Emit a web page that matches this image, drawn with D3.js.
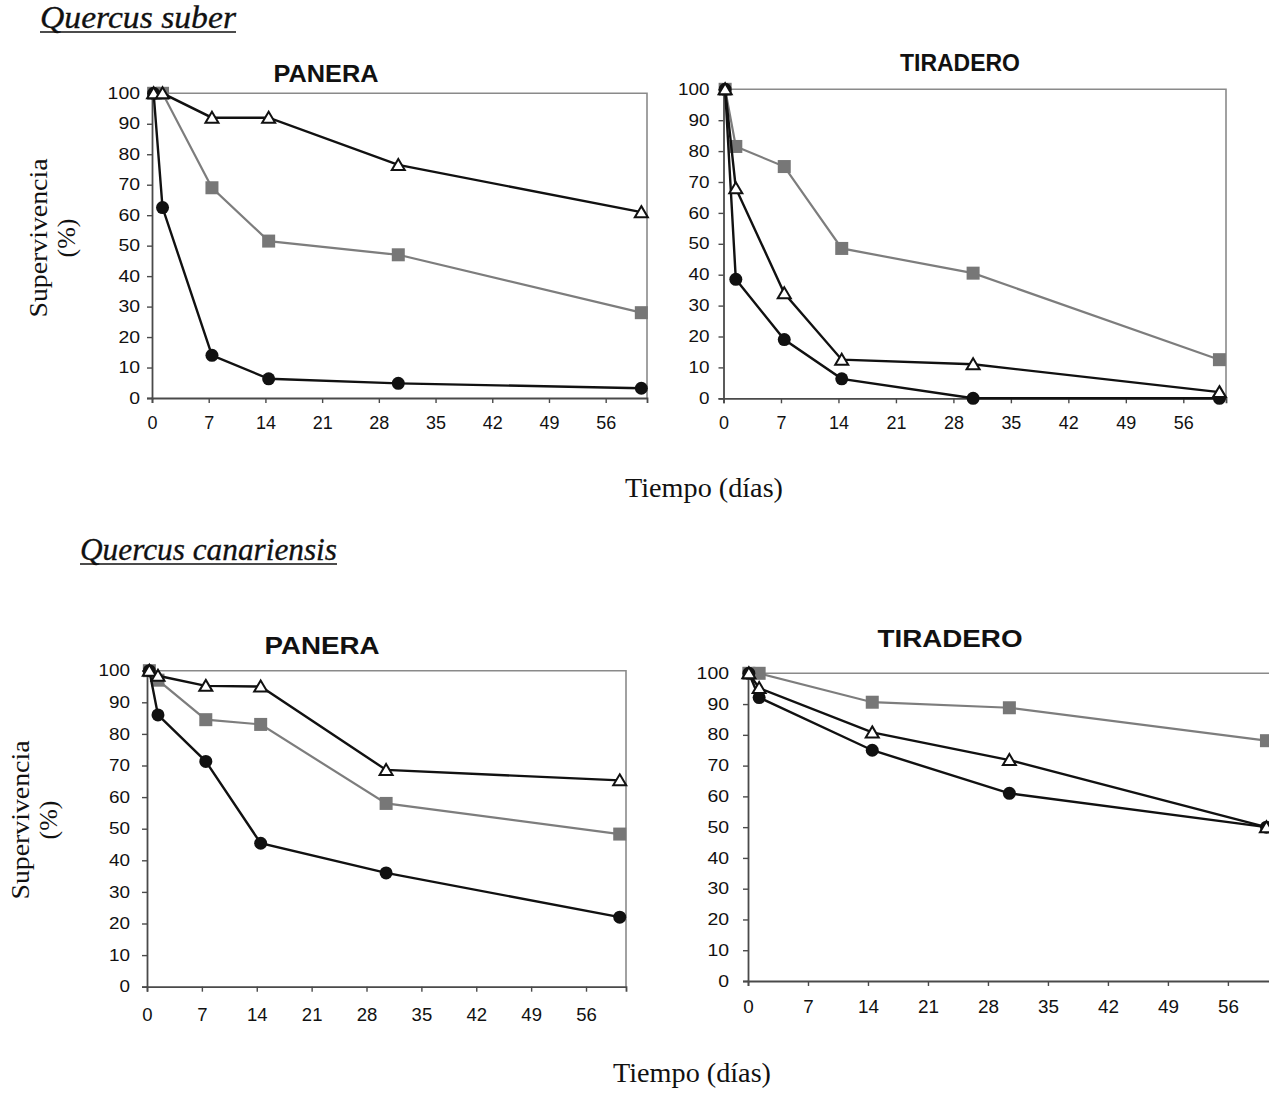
<!DOCTYPE html>
<html>
<head>
<meta charset="utf-8">
<script src="https://cdn.jsdelivr.net/npm/d3@7"></script>
<style>
  body { margin: 0; background: #fff; }
  svg { display: block; }
</style>
</head>
<body>
<div id="chart"></div>
<script>
// Supervivencia (%) vs tiempo (dias)

const xTicks = [0, 7, 14, 21, 28, 35, 42, 49, 56];
const yTicks = [0, 10, 20, 30, 40, 50, 60, 70, 80, 90, 100];

// Quercus suber - PANERA
const suberPaneraDays = [0.2, 1.3, 7.4, 14.4, 30.4, 60.4];
const suberPaneraTriangle = [100, 100, 92, 92, 76.5, 61];
const suberPaneraSquare = [100, 100, 69, 51.5, 47, 28];
const suberPaneraCircle = [100, 62.5, 14, 6.3, 4.8, 3.2];

// Quercus suber - TIRADERO
const suberTiraderoDays = [0.2, 1.5, 7.4, 14.4, 30.4, 60.4];
const suberTiraderoTriangle = [100, 68, 34, 12.5, 11, 2];
const suberTiraderoSquare = [100, 81.5, 75, 48.5, 40.5, 12.5];
const suberTiraderoCircle = [100, 38.5, 19, 6.3, 0, 0];

// Quercus canariensis - PANERA
const canarPaneraDays = [0.3, 1.4, 7.5, 14.5, 30.5, 60.3];
const canarPaneraTriangle = [100, 98.4, 95.2, 95, 68.6, 65.3];
const canarPaneraSquare = [100, 97, 84.5, 83, 58, 48.3];
const canarPaneraCircle = [100, 86, 71.3, 45.4, 36, 22];

// Quercus canariensis - TIRADERO
const canarTiraderoDays = [0.1, 1.3, 14.5, 30.5, 60.5];
const canarTiraderoTriangle = [100, 95.2, 80.8, 71.8, 50];
const canarTiraderoSquare = [100, 100, 90.6, 88.8, 78.1];
const canarTiraderoCircle = [100, 92.1, 75, 61, 50];

const W = 1269, H = 1093;
const SANS = '"Liberation Sans", Arial, sans-serif';
const SERIF = '"Liberation Serif", "Times New Roman", serif';

const svg = d3.select('#chart').append('svg')
    .attr('width', W)
    .attr('height', H)
    .attr('viewBox', `0 0 ${W} ${H}`);

svg.append('rect').attr('width', W).attr('height', H).attr('fill', '#fff');

const zip = (days, vals) => days.map((d, i) => [d, vals[i]]);

const panels = [
    { title: 'PANERA', titleX: 326, titleY: 82, titleSize: 23, titleLen: 105,
      left: 152, right: 647, top: 93.3, bottom: 398, xMax: 61.1,
      yPad: 7, xPad: 13, yDigit: 10.8, xDigit: 10,
      days: suberPaneraDays, tri: suberPaneraTriangle, sq: suberPaneraSquare, circ: suberPaneraCircle },
    { title: 'TIRADERO', titleX: 960, titleY: 71, titleSize: 23, titleLen: 120,
      left: 723.5, right: 1226, top: 89.3, bottom: 398.3, xMax: 61.2,
      yPad: 9, xPad: 13, yDigit: 10.5, xDigit: 10,
      days: suberTiraderoDays, tri: suberTiraderoTriangle, sq: suberTiraderoSquare, circ: suberTiraderoCircle },
    { title: 'PANERA', titleX: 322, titleY: 654, titleSize: 24, titleLen: 115,
      left: 147, right: 626, top: 670.7, bottom: 986.7, xMax: 61.1,
      yPad: 12, xPad: 17, yDigit: 10.5, xDigit: 10.3,
      days: canarPaneraDays, tri: canarPaneraTriangle, sq: canarPaneraSquare, circ: canarPaneraCircle },
    { title: 'TIRADERO', titleX: 950, titleY: 647, titleSize: 24, titleLen: 145,
      left: 748, right: 1271.6, top: 673.3, bottom: 981, xMax: 61.1,
      yPad: 14, xPad: 14, yDigit: 10.8, xDigit: 10.5,
      days: canarTiraderoDays, tri: canarTiraderoTriangle, sq: canarTiraderoSquare, circ: canarTiraderoCircle }
];

function drawPanel(p) {
    const g = svg.append('g');
    const x = d3.scaleLinear().domain([0, p.xMax]).range([p.left, p.right]);
    const y = d3.scaleLinear().domain([0, 100]).range([p.bottom, p.top]);

    // Title
    g.append('text')
        .attr('x', p.titleX)
        .attr('y', p.titleY)
        .attr('text-anchor', 'middle')
        .attr('font-family', SANS)
        .attr('font-weight', 'bold')
        .attr('font-size', p.titleSize)
        .attr('textLength', p.titleLen)
        .attr('lengthAdjust', 'spacingAndGlyphs')
        .attr('fill', '#111')
        .text(p.title);

    // Top + right frame
    g.append('path')
        .attr('d', `M${p.left},${p.top}H${p.right}V${p.bottom}`)
        .attr('fill', 'none')
        .attr('stroke', '#8a8a8a')
        .attr('stroke-width', 1.6);

    // Axes
    const yAxis = d3.axisLeft(y).tickValues(yTicks).tickSize(5).tickPadding(p.yPad);
    const xAxis = d3.axisBottom(x).tickValues(xTicks).tickSize(5).tickPadding(p.xPad);

    const yg = g.append('g')
        .attr('transform', `translate(${p.left},0)`)
        .call(yAxis);
    const xg = g.append('g')
        .attr('transform', `translate(0,${p.bottom})`)
        .call(xAxis);

    [yg, xg].forEach(a => {
        a.select('.domain').attr('stroke', '#4a4a4a').attr('stroke-width', 1.8);
        a.selectAll('.tick line').attr('stroke', '#4a4a4a').attr('stroke-width', 1.4);
    });
    yg.selectAll('.tick text')
        .attr('font-family', SANS)
        .attr('font-size', 16)
        .attr('fill', '#111')
        .attr('textLength', d => String(d).length * p.yDigit)
        .attr('lengthAdjust', 'spacingAndGlyphs');
    xg.selectAll('.tick text')
        .attr('font-family', SANS)
        .attr('font-size', 18)
        .attr('fill', '#111')
        .attr('textLength', d => String(d).length * p.xDigit)
        .attr('lengthAdjust', 'spacingAndGlyphs');

    const line = d3.line().x(d => x(d[0])).y(d => y(d[1]));

    const sqData = zip(p.days, p.sq);
    const circData = zip(p.days, p.circ);
    const triData = zip(p.days, p.tri);

    // Gray squares series
    g.append('path').datum(sqData)
        .attr('d', line).attr('fill', 'none')
        .attr('stroke', '#7d7d7d').attr('stroke-width', 2.2);
    g.selectAll(null).data(sqData).join('rect')
        .attr('x', d => x(d[0]) - 6.5).attr('y', d => y(d[1]) - 6.5)
        .attr('width', 13).attr('height', 13)
        .attr('fill', '#777');

    // Black circles series
    g.append('path').datum(circData)
        .attr('d', line).attr('fill', 'none')
        .attr('stroke', '#111').attr('stroke-width', 2.4);
    g.selectAll(null).data(circData).join('circle')
        .attr('cx', d => x(d[0])).attr('cy', d => y(d[1]))
        .attr('r', 6.5)
        .attr('fill', '#111');

    // Open triangles series
    g.append('path').datum(triData)
        .attr('d', line).attr('fill', 'none')
        .attr('stroke', '#111').attr('stroke-width', 2.4);
    g.selectAll(null).data(triData).join('path')
        .attr('transform', d => `translate(${x(d[0])},${y(d[1])})`)
        .attr('d', 'M0,-6L6.5,5H-6.5Z')
        .attr('fill', '#fff')
        .attr('stroke', '#111')
        .attr('stroke-width', 2)
        .attr('stroke-linejoin', 'miter');
}

panels.forEach(drawPanel);

// Species headings
function heading(text, x0, base, len) {
    svg.append('text')
        .attr('x', x0).attr('y', base)
        .attr('font-family', SERIF)
        .attr('font-style', 'italic')
        .attr('font-size', 31)
        .attr('textLength', len)
        .attr('lengthAdjust', 'spacingAndGlyphs')
        .attr('fill', '#111')
        .attr('stroke', '#111')
        .attr('stroke-width', 0.3)
        .text(text);
    svg.append('line')
        .attr('x1', x0).attr('x2', x0 + len)
        .attr('y1', base + 4).attr('y2', base + 4)
        .attr('stroke', '#111').attr('stroke-width', 1.6);
}
heading('Quercus suber', 40, 28, 196);
heading('Quercus canariensis', 80, 560, 257);

// Y-axis titles
function yTitle(x1, x2, cy) {
    const t = svg.append('g')
        .attr('font-family', SERIF)
        .attr('font-size', 26)
        .attr('fill', '#111')
        .attr('text-anchor', 'middle');
    t.append('text')
        .attr('transform', `translate(${x1},${cy}) rotate(-90)`)
        .attr('textLength', 159)
        .attr('lengthAdjust', 'spacingAndGlyphs')
        .text('Supervivencia');
    t.append('text')
        .attr('transform', `translate(${x2},${cy}) rotate(-90)`)
        .text('(%)');
}
yTitle(47, 75, 238);
yTitle(29, 57, 820);

// X-axis titles
function xTitle(cx, base) {
    svg.append('text')
        .attr('x', cx).attr('y', base)
        .attr('text-anchor', 'middle')
        .attr('font-family', SERIF)
        .attr('font-size', 28)
        .attr('textLength', 158)
        .attr('lengthAdjust', 'spacingAndGlyphs')
        .attr('fill', '#111')
        .text('Tiempo (días)');
}
xTitle(704, 497);
xTitle(692, 1082);
</script>
</body>
</html>
